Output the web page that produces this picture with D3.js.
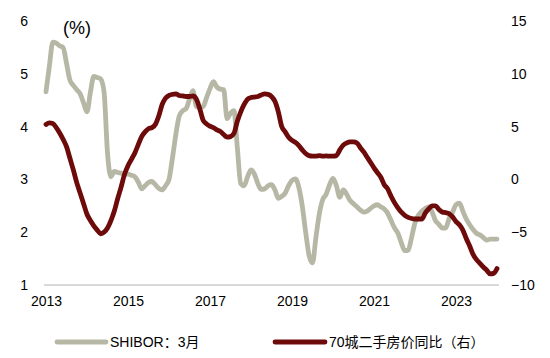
<!DOCTYPE html>
<html>
<head>
<meta charset="utf-8">
<script src="https://cdn.jsdelivr.net/npm/d3@7"></script>
<style>
  html, body { margin: 0; padding: 0; background: #fff; }
  svg { display: block; }
  text { font-family: "Liberation Sans", Arial, "Noto Sans CJK SC", sans-serif; fill: #000; }
</style>
</head>
<body>
<svg id="chart" width="550" height="358"></svg>
<script>
// Monthly data, Jan 2013 .. Jan 2024 (index 0..132)
const startYear = 2013;
const shibor3m = [
  4.66, 5.15, 5.60, 5.58, 5.53, 5.50, 5.20, 4.88, 4.78, 4.70, 4.62, 4.45,
  4.28, 4.65, 4.95, 4.93, 4.90, 4.65, 3.50, 3.05, 3.15, 3.13, 3.12, 3.10,
  3.10, 3.08, 3.05, 2.95, 2.82, 2.88, 2.94, 2.96, 2.90, 2.83, 2.80, 2.88,
  3.00, 3.40, 3.85, 4.20, 4.30, 4.34, 4.52, 4.68, 4.38, 4.36, 4.38, 4.55,
  4.72, 4.85, 4.75, 4.71, 4.70, 4.15, 4.25, 4.30, 3.60, 2.92, 2.88, 3.05,
  3.18, 3.10, 2.92, 2.81, 2.82, 2.88, 2.90, 2.80, 2.64, 2.68, 2.74, 2.88,
  2.98, 3.01, 2.85, 2.50, 2.00, 1.56, 1.42, 1.90, 2.35, 2.62, 2.72, 2.90,
  3.02, 2.88, 2.66, 2.80, 2.72, 2.60, 2.54, 2.48, 2.42, 2.38, 2.40, 2.45,
  2.50, 2.52, 2.48, 2.44, 2.36, 2.22, 2.08, 1.98, 1.80, 1.65, 1.66, 1.90,
  2.18, 2.32, 2.40, 2.45, 2.48, 2.38, 2.22, 2.15, 2.08, 2.08, 2.26, 2.38,
  2.52, 2.55, 2.40, 2.25, 2.14, 2.05, 1.98, 1.95, 1.90, 1.85, 1.87, 1.87,
  1.87
];
const resaleYoY = [
  5.2, 5.35, 5.3, 4.9, 4.4, 3.8, 3.1, 2.0, 0.9, -0.3, -1.3, -2.3,
  -3.3, -3.9, -4.4, -4.8, -5.15, -5.0, -4.6, -3.9, -3.0, -1.8, -0.7, 0.5,
  1.3, 1.9, 2.5, 3.3, 4.05, 4.5, 4.8, 4.9, 5.2, 6.0, 7.1, 7.7,
  7.95, 8.05, 8.1, 7.95, 7.9, 7.85, 7.85, 7.9, 7.6, 6.7, 5.6, 5.25,
  5.05, 4.9, 4.7, 4.55, 4.25, 4.0, 4.05, 4.35, 5.5, 6.4, 7.1, 7.6,
  7.75, 7.8, 7.85, 8.0, 8.1, 8.05, 7.85, 7.4, 6.4, 5.0, 4.5, 4.0,
  3.7, 3.5, 3.2, 2.8, 2.45, 2.25, 2.2, 2.2, 2.25, 2.2, 2.22, 2.2,
  2.2, 2.25, 2.8, 3.25, 3.45, 3.55, 3.55, 3.45, 3.0, 2.6, 2.1, 1.6,
  1.1, 0.65, 0.2, -0.5, -0.9, -1.6, -2.2, -2.7, -3.1, -3.4, -3.6, -3.7,
  -3.75, -3.75, -3.75, -3.2, -2.8, -2.5, -2.5, -2.85, -3.1, -3.15, -3.25, -3.55,
  -4.0, -4.3, -4.8, -5.6, -6.3, -7.1, -7.6, -7.95, -8.3, -8.6, -8.95, -8.9,
  -8.45
];
const xTickYears = [2013, 2015, 2017, 2019, 2021, 2023];
const leftTicks = [1, 2, 3, 4, 5, 6];
const rightTicks = [-10, -5, 0, 5, 10, 15];
const seriesNames = ["SHIBOR：3月", "70城二手房价同比（右）"];
const colors = ["#b7b7a5", "#6d0a0a"];

const svg = d3.select("#chart");
const x = d3.scaleLinear().domain([0, 132]).range([46, 497]);
const yL = d3.scaleLinear().domain([1, 6]).range([285, 21]);
const yR = d3.scaleLinear().domain([-10, 15]).range([285, 21]);

// x axis baseline
svg.append("line")
  .attr("x1", 44).attr("x2", 499)
  .attr("y1", yL(1)).attr("y2", yL(1))
  .attr("stroke", "#d9d9d9").attr("stroke-width", 2);

// x axis labels
const xAxis = d3.axisBottom(x)
  .tickValues(xTickYears.map(yr => (yr - startYear) * 12))
  .tickFormat(v => String(startYear + v / 12))
  .tickSize(0).tickPadding(11);
const gx = svg.append("g").attr("transform", `translate(0,${yL(1)})`).call(xAxis);
gx.select(".domain").remove();
gx.selectAll("text").style("font-size", "14px").attr("fill", "#000");

// left axis
const gl = svg.append("g").attr("transform", "translate(28,0)")
  .call(d3.axisLeft(yL).tickValues(leftTicks).tickFormat(d3.format("d")).tickSize(0).tickPadding(0));
gl.select(".domain").remove();
gl.selectAll("text").style("font-size", "14px").attr("fill", "#000");

// right axis
const gr = svg.append("g").attr("transform", "translate(511,0)")
  .call(d3.axisRight(yR).tickValues(rightTicks).tickFormat(d3.format("d")).tickSize(0).tickPadding(0));
gr.select(".domain").remove();
gr.selectAll("text").style("font-size", "14px").attr("fill", "#000");

// unit label
svg.append("text").attr("x", 63).attr("y", 34).style("font-size", "18px").text("(%)");

// lines
const lineL = d3.line().x((d, i) => x(i)).y(d => yL(d)).curve(d3.curveMonotoneX);
const lineR = d3.line().x((d, i) => x(i)).y(d => yR(d)).curve(d3.curveMonotoneX);

svg.append("path").datum(shibor3m)
  .attr("d", lineL).attr("fill", "none")
  .attr("stroke", colors[0]).attr("stroke-width", 4.8)
  .attr("stroke-linejoin", "round").attr("stroke-linecap", "round");

svg.append("path").datum(resaleYoY)
  .attr("d", lineR).attr("fill", "none")
  .attr("stroke", colors[1]).attr("stroke-width", 4.8)
  .attr("stroke-linejoin", "round").attr("stroke-linecap", "round");

// legend
const legendY = 342;
const legend = [
  { x1: 57, x2: 106, tx: 110, name: seriesNames[0], color: colors[0] },
  { x1: 275, x2: 325, tx: 329, name: seriesNames[1], color: colors[1] }
];
legend.forEach(l => {
  svg.append("line").attr("x1", l.x1).attr("x2", l.x2)
    .attr("y1", legendY).attr("y2", legendY)
    .attr("stroke", l.color).attr("stroke-width", 4.8).attr("stroke-linecap", "round");
  svg.append("text").attr("x", l.tx).attr("y", legendY).attr("dy", "0.35em")
    .style("font-size", "14px").text(l.name);
});
</script>
</body>
</html>
